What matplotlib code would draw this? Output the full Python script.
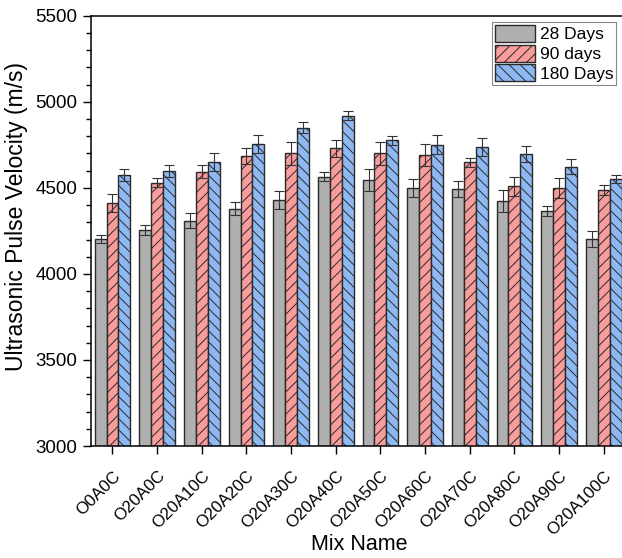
import numpy as np
import matplotlib
matplotlib.use('Agg')
import matplotlib.pyplot as plt
from matplotlib.ticker import MultipleLocator

plt.rcParams['font.family'] = ['Liberation Sans', 'DejaVu Sans']
plt.rcParams['hatch.linewidth'] = 0.7

# data
mixes = ['O0A0C', 'O20A0C', 'O20A10C', 'O20A20C', 'O20A30C', 'O20A40C',
         'O20A50C', 'O20A60C', 'O20A70C', 'O20A80C', 'O20A90C', 'O20A100C']
days28 = [4202, 4256, 4310, 4380, 4430, 4564, 4545, 4500, 4494, 4423, 4364, 4202]
days90 = [4411, 4531, 4595, 4684, 4700, 4729, 4700, 4692, 4649, 4509, 4500, 4486]
days180 = [4574, 4599, 4649, 4756, 4849, 4919, 4777, 4752, 4736, 4696, 4624, 4552]
err28 = [24, 30, 46, 38, 50, 26, 64, 54, 45, 65, 30, 48]
err90 = [52, 25, 38, 46, 65, 52, 65, 64, 25, 56, 57, 29]
err180 = [36, 33, 52, 54, 31, 27, 25, 55, 53, 45, 45, 21]

series = [
    ('28 Days', days28, err28, '#b0b0b0', ''),
    ('90 days', days90, err90, '#f89c9c', '///'),
    ('180 Days', days180, err180, '#8db8f2', '\\\\\\'),
]

fig = plt.figure(figsize=(6.22, 5.58), dpi=100)
ax = fig.add_axes([0.146, 0.2007, 0.862, 0.771])

x = np.arange(len(mixes))
w = 0.8 / 3
for i, (name, vals, errs, color, hatch) in enumerate(series):
    ax.bar(x + (i - 1) * w, vals, w, color=color, edgecolor='#2a2a2a',
           linewidth=1.0, hatch=hatch, label=name, zorder=2)
    ax.errorbar(x + (i - 1) * w, vals, yerr=errs, fmt='none', ecolor='#333333',
                elinewidth=0.8, capsize=3.5, capthick=0.8, zorder=3)

ax.set_ylim(3000, 5500)
ax.set_xlim(-0.485, 11.52)
ax.yaxis.set_major_locator(MultipleLocator(500))
ax.yaxis.set_minor_locator(MultipleLocator(100))
ax.set_xticks(x)
ax.set_xticklabels(mixes, rotation=45, ha='right', va='top',
                   rotation_mode='anchor', fontsize=12.2)
ax.tick_params(axis='y', which='major', direction='out', length=6, width=1,
               labelsize=13.5)
ax.tick_params(axis='y', which='minor', direction='out', length=3.5, width=1)
ax.tick_params(axis='x', direction='out', length=6, width=1, pad=10)
ax.spines['right'].set_visible(False)
for s in ['left', 'top', 'bottom']:
    ax.spines[s].set_linewidth(1.1)

ax.set_ylabel('Ultrasonic Pulse Velocity (m/s)', fontsize=16.5, labelpad=6)
ax.yaxis.set_label_coords(-0.118, 0.533)
ax.set_xlabel('Mix Name', fontsize=15.5, va='top')
ax.xaxis.set_label_coords(0.5, -0.204)

leg = ax.legend(loc='upper right', bbox_to_anchor=(0.98, 0.986), fontsize=12.5,
                fancybox=False, edgecolor='#888888', framealpha=1,
                handlelength=2.3, handleheight=1.15, labelspacing=0.12,
                handletextpad=0.25, borderpad=0.18, borderaxespad=0)
leg.get_frame().set_linewidth(0.8)

fig.savefig('out.png', dpi=100)
